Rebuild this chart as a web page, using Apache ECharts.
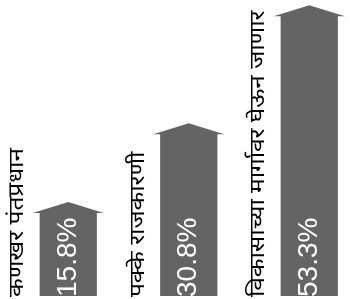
<!DOCTYPE html>
<html><head><meta charset="utf-8">
<script src="https://cdn.jsdelivr.net/npm/echarts@6/dist/echarts.min.js"></script>
<style>html,body{margin:0;padding:0;background:#fff}#c{width:350px;height:299px}</style>
</head><body><div id="c"></div>
<script>
const categories = ['कणखर पंतप्रधान', 'पक्के राजकारणी', 'विकासाच्या मार्गावर घेऊन जाणार'];
const values = [15.8, 30.8, 53.3];
const valueLabels = ['15.8%', '30.8%', '53.3%'];

const chart = echarts.init(document.getElementById('c'), null, {renderer: 'canvas'});
chart.setOption({
  animation: false,
  grid: {left: 8, right: 0, top: 2, bottom: 3},
  xAxis: {type: 'value', min: -0.5, max: 2.338, show: false},
  yAxis: {type: 'value', min: 0, max: 56, show: false},
  series: [{
    type: 'custom',
    data: values.map((v, i) => [i, v]),
    renderItem: function (params, api) {
      const i = api.value(0);
      const top = api.coord([i, api.value(1)]);
      const base = api.coord([i, 0]);
      const bw = api.size([1, 0])[0] * 0.475;
      const hw = bw / 2 + 7;
      const headH = 11;
      const cx = top[0];
      return {
        type: 'group',
        children: [
          {
            type: 'polygon',
            shape: {points: [
              [cx - bw / 2, base[1]], [cx - bw / 2, top[1]], [cx - hw, top[1]],
              [cx, top[1] - headH], [cx + hw, top[1]], [cx + bw / 2, top[1]],
              [cx + bw / 2, base[1]]
            ]},
            style: {fill: '#646464'}
          },
          {
            type: 'text', x: cx, y: base[1] + 1, rotation: Math.PI / 2,
            style: {text: valueLabels[i], fill: '#fff', align: 'left', verticalAlign: 'middle',
              font: '28px "Liberation Sans", Arial, sans-serif'}
          },
          {
            type: 'text', x: cx - 51, y: base[1] + 1, rotation: Math.PI / 2, scaleX: 1.16,
            style: {text: categories[i], fill: '#000', align: 'left', verticalAlign: 'middle',
              font: '21px "Noto Sans", sans-serif'}
          }
        ]
      };
    }
  }]
});
</script></body></html>
